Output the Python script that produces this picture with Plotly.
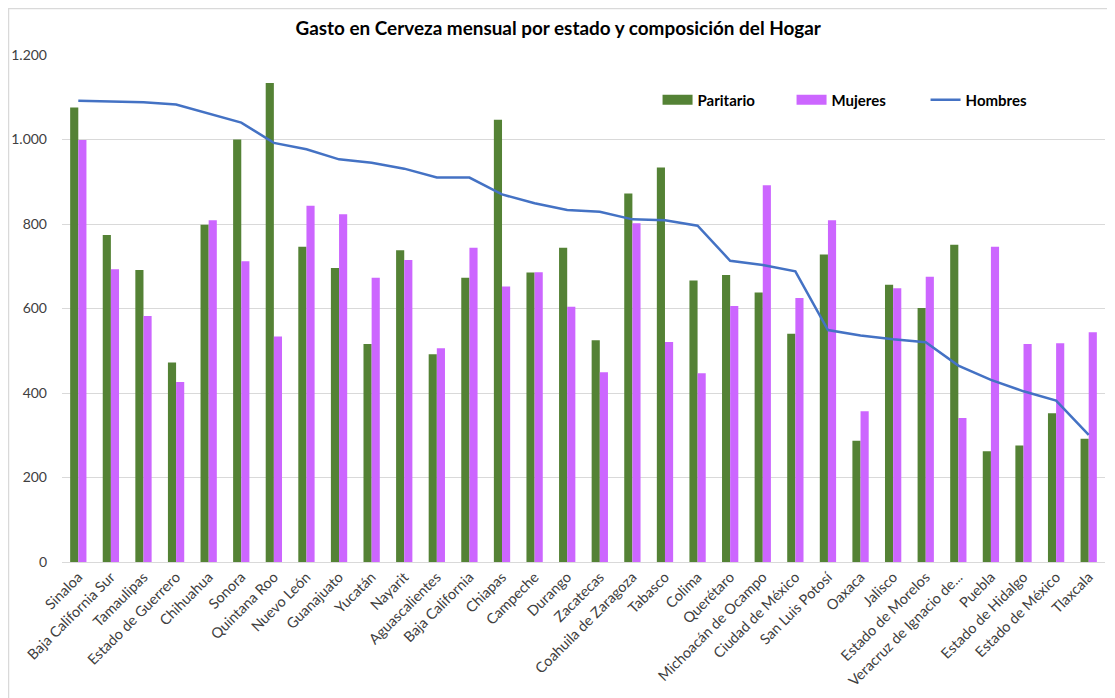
import plotly.graph_objects as go

estados = ["Sinaloa", "Baja California Sur", "Tamaulipas", "Estado de Guerrero", "Chihuahua", "Sonora",
           "Quintana Roo", "Nuevo León", "Guanajuato", "Yucatán", "Nayarit", "Aguascalientes",
           "Baja California", "Chiapas", "Campeche", "Durango", "Zacatecas", "Coahuila de Zaragoza",
           "Tabasco", "Colima", "Querétaro", "Michoacán de Ocampo", "Ciudad de México", "San Luis Potosí",
           "Oaxaca", "Jalisco", "Estado de Morelos", "Veracruz de Ignacio de...", "Puebla",
           "Estado de Hidalgo", "Estado de México", "Tlaxcala"]

paritario = [1076, 774, 691, 472, 798, 1000, 1134, 746, 696, 516, 738, 492, 673, 1047, 685, 744,
             525, 872, 934, 666, 679, 638, 540, 728, 287, 656, 601, 751, 262, 276, 352, 292]

mujeres = [999, 693, 582, 426, 809, 712, 534, 843, 823, 673, 715, 506, 744, 652, 686, 604,
           449, 802, 521, 447, 606, 892, 625, 809, 357, 648, 675, 341, 746, 516, 518, 544]

hombres = [1092, 1090, 1088, 1083, 1062, 1040, 992, 977, 953, 945, 931, 910, 910, 870, 849, 833,
           829, 811, 809, 796, 713, 703, 688, 549, 536, 527, 520, 465, 431, 404, 382, 301]

FONT = "Lato, 'Open Sans', sans-serif"
GREEN = "#548235"
PINK = "#CC66FF"
BLUE = "#4472C4"

fig = go.Figure()
fig.add_trace(go.Bar(x=estados, y=paritario, name="Paritario", marker_color=GREEN,
                     marker_line_width=0, showlegend=False))
fig.add_trace(go.Bar(x=estados, y=mujeres, name="Mujeres", marker_color=PINK,
                     marker_line_width=0, showlegend=False))
fig.add_trace(go.Scatter(x=estados, y=hombres, name="Hombres", mode="lines",
                         line=dict(color=BLUE, width=2.5), showlegend=False))
# legend entries (wide swatches as in the original)
fig.add_trace(go.Scatter(x=[None], y=[None], name="Paritario", mode="lines",
                         line=dict(color=GREEN, width=10)))
fig.add_trace(go.Scatter(x=[None], y=[None], name="Mujeres", mode="lines",
                         line=dict(color=PINK, width=10)))
fig.add_trace(go.Scatter(x=[None], y=[None], name="Hombres", mode="lines",
                         line=dict(color=BLUE, width=2.5)))

# page body has an 8px margin: figure drawn at (8, 8)
fig.update_layout(
    width=1107, height=690,
    margin=dict(l=54, r=10, t=47, b=136, autoexpand=False),
    paper_bgcolor="white", plot_bgcolor="white",
    separators=",.",
    barmode="group", bargap=0.5, bargroupgap=0,
    font=dict(family=FONT, size=12, color="#404040"),
    title=dict(text="<b>Gasto en Cerveza mensual por estado y composición del Hogar</b>",
               x=0.497, xanchor="center", xref="container", y=0.971, yanchor="middle",
               font=dict(family=FONT, size=18.9, color="#000000")),
    legend=dict(orientation="h", x=0.571, xanchor="left", y=0.911, yanchor="middle",
                bgcolor="rgba(0,0,0,0)", font=dict(family=FONT, size=15, color="#000000", weight="bold"),
                entrywidth=89, entrywidthmode="pixels", itemwidth=30, traceorder="normal"),
    showlegend=True,
)
fig.update_xaxes(tickangle=-45, showgrid=False, showline=True, linecolor="#d9d9d9", linewidth=1,
                 ticks="", automargin=False, tickfont=dict(size=14.5, color="#404040"))
fig.update_yaxes(range=[0, 1200], dtick=200, tickformat=",d", showgrid=True, gridcolor="#d9d9d9",
                 gridwidth=1, zeroline=False, showline=False, ticks="", automargin=False,
                 ticklabelstandoff=14, tickfont=dict(size=14, color="#404040"))

fig.add_shape(type="rect", xref="paper", yref="paper", x0=-0.0513, x1=1.1, y0=-0.4, y1=1.0917,
              line=dict(color="#d9d9d9", width=1.5), fillcolor="rgba(0,0,0,0)", layer="below")

fig.write_html("out.html")
